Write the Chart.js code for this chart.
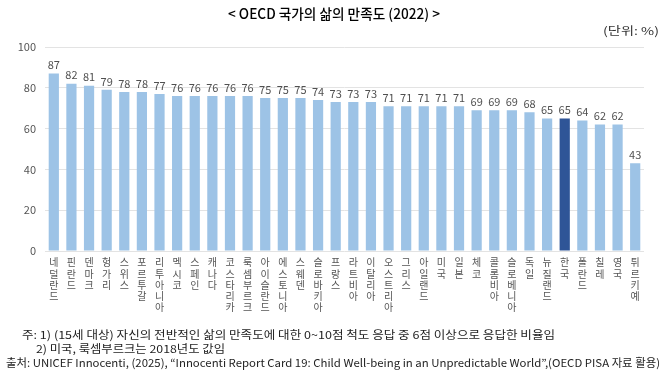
<!DOCTYPE html>
<html>
<head>
<meta charset="utf-8">
<script src="https://cdn.jsdelivr.net/npm/chart.js@4.4.1/dist/chart.umd.min.js"></script>
<style>
  html, body { margin: 0; padding: 0; background: #fff; }
  body { width: 670px; height: 380px; position: relative; overflow: hidden; font-family: "Noto Sans CJK KR", "Noto Sans", sans-serif; }
  #wrap { position: absolute; left: 0; top: 0; width: 670px; height: 331px; }
  .txt { position: absolute; white-space: nowrap; transform-origin: 0 0; color: #222; }
  #title { top: 3px; font-size: 14px; font-weight: 500; color: #000; }
  #unit { top: 22px; font-size: 11px; color: #333; }
  .note { font-size: 11px; color: #222; }
</style>
</head>
<body>
<div id="wrap"><canvas id="c"></canvas></div>
<div id="title" class="txt" data-x="228" data-w="212">&lt; OECD 국가의 삶의 만족도 (2022) &gt;</div>
<div id="unit" class="txt" data-x="603" data-w="56">(단위: %)</div>
<div class="txt note" style="top:326px" data-x="22" data-w="533">주: 1) (15세 대상) 자신의 전반적인 삶의 만족도에 대한 0~10점 척도 응답 중 6점 이상으로 응답한 비율임</div>
<div class="txt note" style="top:340px" data-x="36" data-w="189">2) 미국, 룩셈부르크는 2018년도 값임</div>
<div class="txt note" style="top:354px" data-x="6" data-w="654">출처: UNICEF Innocenti, (2025), “Innocenti Report Card 19: Child Well-being in an Unpredictable World”,(OECD PISA 자료 활용)</div>
<script>
const categories = ["네덜란드","핀란드","덴마크","헝가리","스위스","포르투갈","리투아니아","멕시코","스페인","캐나다","코스타리카","룩셈부르크","아이슬란드","에스토니아","스웨덴","슬로바키아","프랑스","라트비아","이탈리아","오스트리아","그리스","아일랜드","미국","일본","체코","콜롬비아","슬로베니아","독일","뉴질랜드","한국","폴란드","칠레","영국","튀르키예"];
const values = [87,82,81,79,78,78,77,76,76,76,76,76,75,75,75,74,73,73,73,71,71,71,71,71,69,69,69,68,65,65,64,62,62,43];
const yTicks = [0,20,40,60,80,100];
const highlight = "한국";

// fit texts to target widths
document.querySelectorAll('.txt').forEach(el => {
  const w = el.getBoundingClientRect().width;
  const tw = parseFloat(el.dataset.w);
  el.style.left = el.dataset.x + 'px';
  el.style.transform = 'scaleX(' + (tw / w) + ')';
});

const barColors = categories.map(c => c === highlight ? '#2F5597' : '#9DC3E6');

const valueLabels = {
  id: 'valueLabels',
  afterDatasetsDraw(chart) {
    const ctx = chart.ctx;
    const meta = chart.getDatasetMeta(0);
    ctx.save();
    ctx.font = '11px "Noto Sans CJK KR", sans-serif';
    ctx.fillStyle = '#505050';
    ctx.textAlign = 'center';
    ctx.textBaseline = 'bottom';
    meta.data.forEach((bar, i) => {
      ctx.fillText(String(values[i]), bar.x, bar.y - 3);
    });
    ctx.restore();
  }
};

new Chart(document.getElementById('c'), {
  type: 'bar',
  data: {
    labels: categories.map(c => c.split('')),
    datasets: [{
      data: values,
      backgroundColor: barColors,
      borderWidth: 0,
      barPercentage: 0.58,
      categoryPercentage: 1.0
    }]
  },
  options: {
    responsive: true,
    maintainAspectRatio: false,
    animation: false,
    layout: { padding: { top: 47, right: 26, left: 0, bottom: 0 } },
    plugins: { legend: { display: false }, tooltip: { enabled: false }, title: { display: false } },
    scales: {
      x: {
        grid: { display: false, drawTicks: false },
        border: { display: false },
        ticks: {
          autoSkip: false, maxRotation: 0, minRotation: 0,
          color: '#555', padding: 6,
          font: { family: '"Noto Sans CJK KR", sans-serif', size: 10, lineHeight: 1.12 }
        },
        afterFit(scale) { scale.height = 80; }
      },
      y: {
        min: 0, max: 100,
        afterBuildTicks(scale) { scale.ticks = yTicks.map(v => ({ value: v })); },
        grid: { color: '#e3e3e3', drawTicks: false, lineWidth: 1 },
        border: { display: false },
        ticks: {
          color: '#555', padding: 9,
          font: { family: '"Noto Sans CJK KR", sans-serif', size: 11 }
        },
        afterFit(scale) { scale.width = 45; }
      }
    }
  },
  plugins: [valueLabels]
});
</script>
</body>
</html>
